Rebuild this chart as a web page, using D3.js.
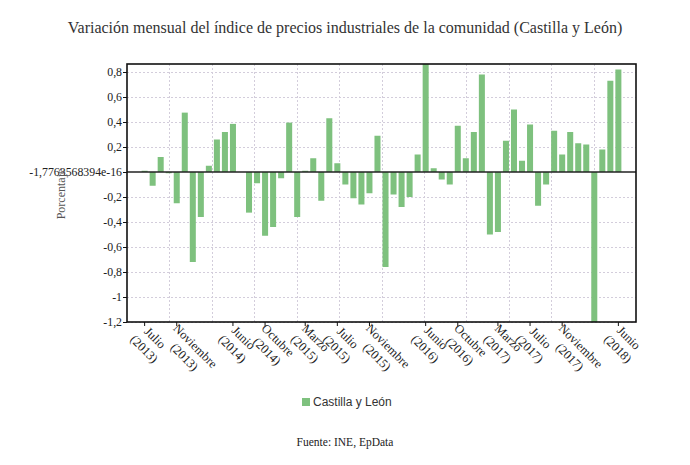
<!DOCTYPE html>
<html>
<head>
<meta charset="utf-8">
<script src="https://cdn.jsdelivr.net/npm/d3@7"></script>
<style>
  body { margin: 0; background: #fff; }
  svg { display: block; }
</style>
</head>
<body>
<svg id="chart" width="690" height="465"></svg>
<script>
// ---------- DATA ----------
const months = [
  "2013-07","2013-08","2013-09","2013-10","2013-11","2013-12",
  "2014-01","2014-02","2014-03","2014-04","2014-05","2014-06",
  "2014-07","2014-08","2014-09","2014-10","2014-11","2014-12",
  "2015-01","2015-02","2015-03","2015-04","2015-05","2015-06",
  "2015-07","2015-08","2015-09","2015-10","2015-11","2015-12",
  "2016-01","2016-02","2016-03","2016-04","2016-05","2016-06",
  "2016-07","2016-08","2016-09","2016-10","2016-11","2016-12",
  "2017-01","2017-02","2017-03","2017-04","2017-05","2017-06",
  "2017-07","2017-08","2017-09","2017-10","2017-11","2017-12",
  "2018-01","2018-02","2018-03","2018-04","2018-05","2018-06"
];
const values = [
  0.01, -0.11, 0.12, -0.01, -0.25, 0.475,
  -0.72, -0.36, 0.05, 0.26, 0.32, 0.385,
  0.0, -0.325, -0.09, -0.51, -0.44, -0.05,
  0.395, -0.36, 0.01, 0.11, -0.23, 0.43,
  0.07, -0.10, -0.21, -0.26, -0.17, 0.29,
  -0.76, -0.18, -0.28, -0.20, 0.14, 0.864,
  0.03, -0.06, -0.10, 0.37, 0.11, 0.32,
  0.78, -0.50, -0.48, 0.25, 0.50, 0.09,
  0.38, -0.27, -0.10, 0.33, 0.14, 0.32,
  0.23, 0.22, -1.2, 0.18, 0.73, 0.82
];
const tickMonths = ["2013-07","2013-11","2014-06","2014-10","2015-03","2015-07",
  "2015-11","2016-06","2016-10","2017-03","2017-07","2017-11","2018-06"];
const tickLabels = [
  ["Julio","(2013)"],["Noviembre","(2013)"],["Junio","(2014)"],["Octubre","(2014)"],
  ["Marzo","(2015)"],["Julio","(2015)"],["Noviembre","(2015)"],["Junio","(2016)"],
  ["Octubre","(2016)"],["Marzo","(2017)"],["Julio","(2017)"],["Noviembre","(2017)"],
  ["Junio","(2018)"]
];
const yTicks = [-1.2, -1, -0.8, -0.6, -0.4, -0.2, 0, 0.2, 0.4, 0.6, 0.8];
const yTickLabels = ["-1,2","-1","-0,8","-0,6","-0,4","-0,2","-1,7763568394e-16","0,2","0,4","0,6","0,8"];
const seriesName = "Castilla y León";
const titleText = "Variación mensual del índice de precios industriales de la comunidad (Castilla y León)";
const yLabel = "Porcentaje";
const sourceText = "Fuente: INE, EpData";

// ---------- LAYOUT ----------
const W = 690, H = 465;
const m = { left: 127, right: 636, top: 64, bottom: 322 };
const serif = "'Liberation Serif', 'Times New Roman', Times, serif";
const sans = "'Liberation Sans', Arial, Helvetica, sans-serif";
const barColor = "#7ec17e";
const gridColor = "#d3cddb";

const svg = d3.select("#chart");

const x = d3.scaleBand().domain(months).range([m.left, m.right])
  .paddingInner(0.25).paddingOuter(1.82);
const y = d3.scaleLinear().domain(d3.extent(values)).range([m.bottom, m.top]);
const gx = d3.scaleLinear().domain([0, 12]).range([m.left, m.right]);

// title
svg.append("text").attr("x", W / 2).attr("y", 33).attr("text-anchor", "middle")
  .attr("font-family", serif).attr("font-size", 16).attr("fill", "#333")
  .text(titleText);

// grid
const grid = svg.append("g");
grid.selectAll("line.h").data(yTicks.filter(v => v !== 0)).join("line")
  .attr("x1", m.left).attr("x2", m.right)
  .attr("y1", d => Math.round(y(d)) + 0.5).attr("y2", d => Math.round(y(d)) + 0.5)
  .attr("stroke", gridColor).attr("stroke-dasharray", "2,2");
grid.selectAll("line.v").data(d3.range(1, 12)).join("line")
  .attr("y1", m.top).attr("y2", m.bottom)
  .attr("x1", d => Math.round(gx(d)) + 0.5).attr("x2", d => Math.round(gx(d)) + 0.5)
  .attr("stroke", gridColor).attr("stroke-dasharray", "2,2");

// bars
svg.append("g").selectAll("rect").data(values).join("rect")
  .attr("x", (d, i) => x(months[i]))
  .attr("width", x.bandwidth())
  .attr("y", d => y(Math.max(0, d)))
  .attr("height", d => Math.abs(y(d) - y(0)))
  .attr("fill", barColor);

// zero line
svg.append("line").attr("x1", m.left).attr("x2", m.right)
  .attr("y1", y(0)).attr("y2", y(0)).attr("stroke", "#222").attr("stroke-width", 1.6);

// frame
svg.append("rect").attr("x", m.left).attr("y", m.top)
  .attr("width", m.right - m.left).attr("height", m.bottom - m.top)
  .attr("fill", "none").attr("stroke", "#111").attr("stroke-width", 1.6);

// y axis
const yAxis = svg.append("g").attr("transform", `translate(${m.left},0)`)
  .call(d3.axisLeft(y).tickValues(yTicks).tickSize(4).tickPadding(1)
    .tickFormat((d, i) => yTickLabels[i]));
yAxis.select(".domain").remove();
yAxis.selectAll("line").attr("stroke", "#111");
yAxis.selectAll("text").attr("font-family", serif).attr("font-size", 11.8).attr("fill", "#222");

// x axis ticks
const xAxis = svg.append("g").attr("transform", `translate(0,${m.bottom})`)
  .call(d3.axisBottom(x).tickValues(tickMonths).tickSize(4).tickFormat(""));
xAxis.select(".domain").remove();
xAxis.selectAll("line").attr("stroke", "#111");

// x labels (rotated, two lines, centred in block)
tickMonths.forEach((mo, i) => {
  const g = svg.append("g")
    .attr("transform", `translate(${x(mo) + x.bandwidth() / 2},${m.bottom}) rotate(45)`);
  const t = g.append("text").attr("font-family", serif).attr("font-size", 12.5)
    .attr("fill", "#222").attr("text-anchor", "middle");
  tickLabels[i].forEach((ln, j) => t.append("tspan").attr("y", 8 + j * 15.5).text(ln));
  const w = d3.max(t.selectAll("tspan").nodes(), n => n.getComputedTextLength());
  t.selectAll("tspan").attr("x", 2 + w / 2);
});

// y label
svg.append("text").attr("transform", `translate(65,${(m.top + m.bottom) / 2 + 1}) rotate(-90)`)
  .attr("text-anchor", "middle").attr("font-family", serif).attr("font-size", 12)
  .attr("fill", "#555").text(yLabel);

// legend
const lg = svg.append("g").attr("transform", "translate(302,398)");
lg.append("rect").attr("width", 8).attr("height", 8).attr("fill", barColor);
lg.append("text").attr("x", 11).attr("y", 8).attr("font-family", sans).attr("font-size", 12)
  .attr("fill", "#333").text(seriesName);

// source
svg.append("text").attr("x", W / 2).attr("y", 446).attr("text-anchor", "middle")
  .attr("font-family", serif).attr("font-size", 11.5).attr("fill", "#222").text(sourceText);
</script>
</body>
</html>
